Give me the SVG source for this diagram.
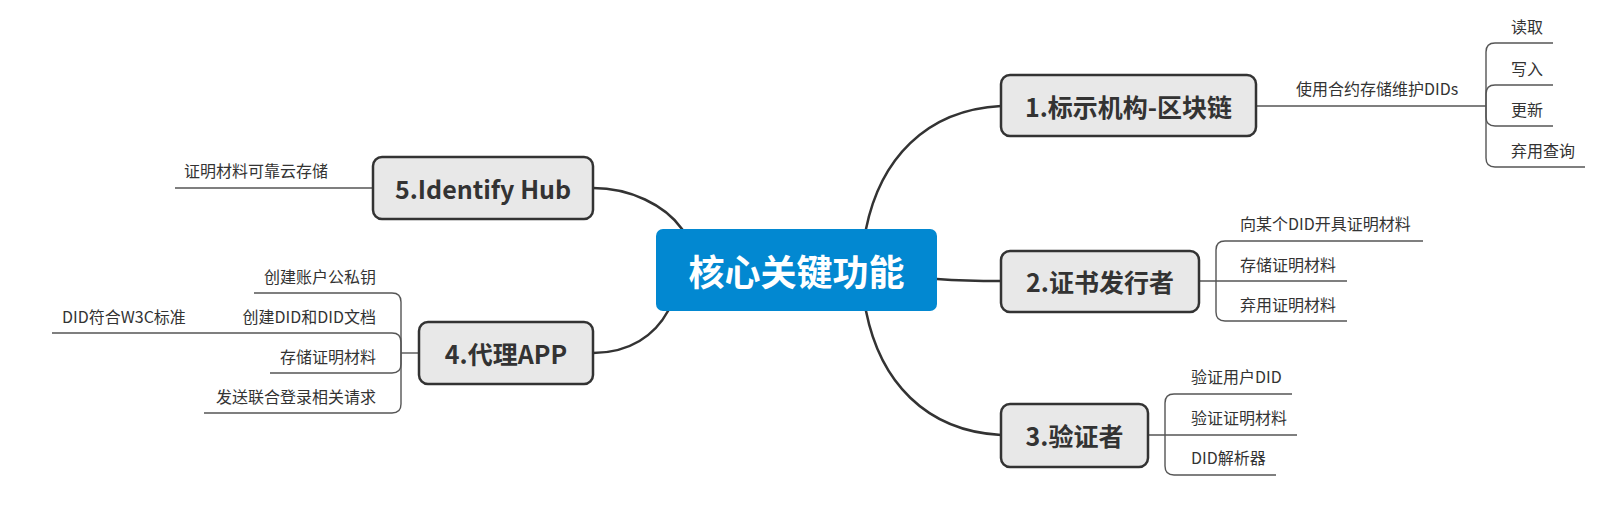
<svg xmlns="http://www.w3.org/2000/svg" width="1615" height="529" viewBox="0 0 1615 529">
<style>
.conn{fill:none;stroke:#333;stroke-width:2.5;stroke-linecap:round}
.leafline{fill:none;stroke:#555;stroke-width:1.4}
.topic{fill:#e8e8e8;stroke:#333;stroke-width:2.5}
.tt{font-family:"Noto Sans CJK SC","Noto Sans",sans-serif;font-weight:bold;font-size:25px;fill:#333;text-anchor:middle;dominant-baseline:central}
.lt{font-family:"Noto Sans CJK SC","Noto Sans",sans-serif;font-size:16px;fill:#333}
.rt{text-anchor:end}
</style>
<rect width="1615" height="529" fill="#fff"/>
<g id="connectors">
<path class="conn" d="M863,245 L866,229 C880,160 925,110 1001,106"/>
<path class="conn" d="M930,279 L937,279 Q965,281 1001,281"/>
<path class="conn" d="M863,295 L866,311 C880,381 925,431 1001,435"/>
<path class="conn" d="M690,245 L682,229 C665,205 630,188 593,188"/>
<path class="conn" d="M676,297 L668,311 C655,335 630,353 593,353"/>
<path class="leafline" d="M1256,106 H1486"/>
<path class="leafline" d="M1486,106 V52 Q1486,43 1495,43 H1553"/>
<path class="leafline" d="M1486,106 V94 Q1486,85 1495,85 H1553"/>
<path class="leafline" d="M1486,106 V117 Q1486,126 1495,126 H1553"/>
<path class="leafline" d="M1486,106 V158 Q1486,167 1495,167 H1585"/>
<path class="leafline" d="M1199,281 H1347"/>
<path class="leafline" d="M1216,281 V250 Q1216,241 1225,241 H1423"/>
<path class="leafline" d="M1216,281 V312 Q1216,321 1225,321 H1347"/>
<path class="leafline" d="M1148,435 H1297"/>
<path class="leafline" d="M1165,435 V403 Q1165,394 1174,394 H1292"/>
<path class="leafline" d="M1165,435 V466 Q1165,475 1174,475 H1276"/>
<path class="leafline" d="M373,188 H175"/>
<path class="leafline" d="M419,353 H401"/>
<path class="leafline" d="M401,353 V302 Q401,293 392,293 H254"/>
<path class="leafline" d="M401,353 V342 Q401,333 392,333 H52"/>
<path class="leafline" d="M401,353 V364 Q401,373 392,373 H270"/>
<path class="leafline" d="M401,353 V404 Q401,413 392,413 H204"/>
</g>
<g id="root">
<rect x="656" y="229" width="281" height="82" rx="7" fill="#0288d1"/>
<text x="796.5" y="270" style="font-family:'Noto Sans CJK SC','Noto Sans',sans-serif;font-weight:bold;font-size:36px;fill:#fff;text-anchor:middle;dominant-baseline:central">核心关键功能</text>
</g>
<g id="node1">
<rect class="topic" x="1001" y="75" width="255" height="61" rx="9"/>
<text class="tt" x="1128.5" y="105.5">1.标示机构-区块链</text>
</g>
<g id="node1-contract"><text class="lt" x="1296" y="95">使用合约存储维护DIDs</text></g>
<g id="node1-read"><text class="lt" x="1511" y="33">读取</text></g>
<g id="node1-write"><text class="lt" x="1511" y="75">写入</text></g>
<g id="node1-update"><text class="lt" x="1511" y="116">更新</text></g>
<g id="node1-deprecate"><text class="lt" x="1511" y="157">弃用查询</text></g>
<g id="node2">
<rect class="topic" x="1001" y="251" width="198" height="61" rx="9"/>
<text class="tt" x="1100" y="281">2.证书发行者</text>
</g>
<g id="node2-issue"><text class="lt" x="1240" y="230">向某个DID开具证明材料</text></g>
<g id="node2-store"><text class="lt" x="1240" y="271">存储证明材料</text></g>
<g id="node2-revoke"><text class="lt" x="1240" y="311">弃用证明材料</text></g>
<g id="node3">
<rect class="topic" x="1001" y="404" width="147" height="63" rx="9"/>
<text class="tt" x="1074.5" y="435">3.验证者</text>
</g>
<g id="node3-user"><text class="lt" x="1191" y="383">验证用户DID</text></g>
<g id="node3-cred"><text class="lt" x="1191" y="424">验证证明材料</text></g>
<g id="node3-resolver"><text class="lt" x="1191" y="464">DID解析器</text></g>
<g id="node4">
<rect class="topic" x="419" y="322" width="174" height="62" rx="9"/>
<text class="tt" x="506" y="353">4.代理APP</text>
</g>
<g id="node4-keys"><text class="lt rt" x="376" y="283">创建账户公私钥</text></g>
<g id="node4-did"><text class="lt rt" x="376" y="323">创建DID和DID文档</text></g>
<g id="node4-w3c"><text class="lt" x="62" y="323">DID符合W3C标准</text></g>
<g id="node4-store"><text class="lt rt" x="376" y="363">存储证明材料</text></g>
<g id="node4-login"><text class="lt rt" x="376" y="403">发送联合登录相关请求</text></g>
<g id="node5">
<rect class="topic" x="373" y="157" width="220" height="62" rx="9"/>
<text class="tt" x="483" y="188">5.Identify Hub</text>
</g>
<g id="node5-cloud"><text class="lt" x="184" y="177">证明材料可靠云存储</text></g>
</svg>
